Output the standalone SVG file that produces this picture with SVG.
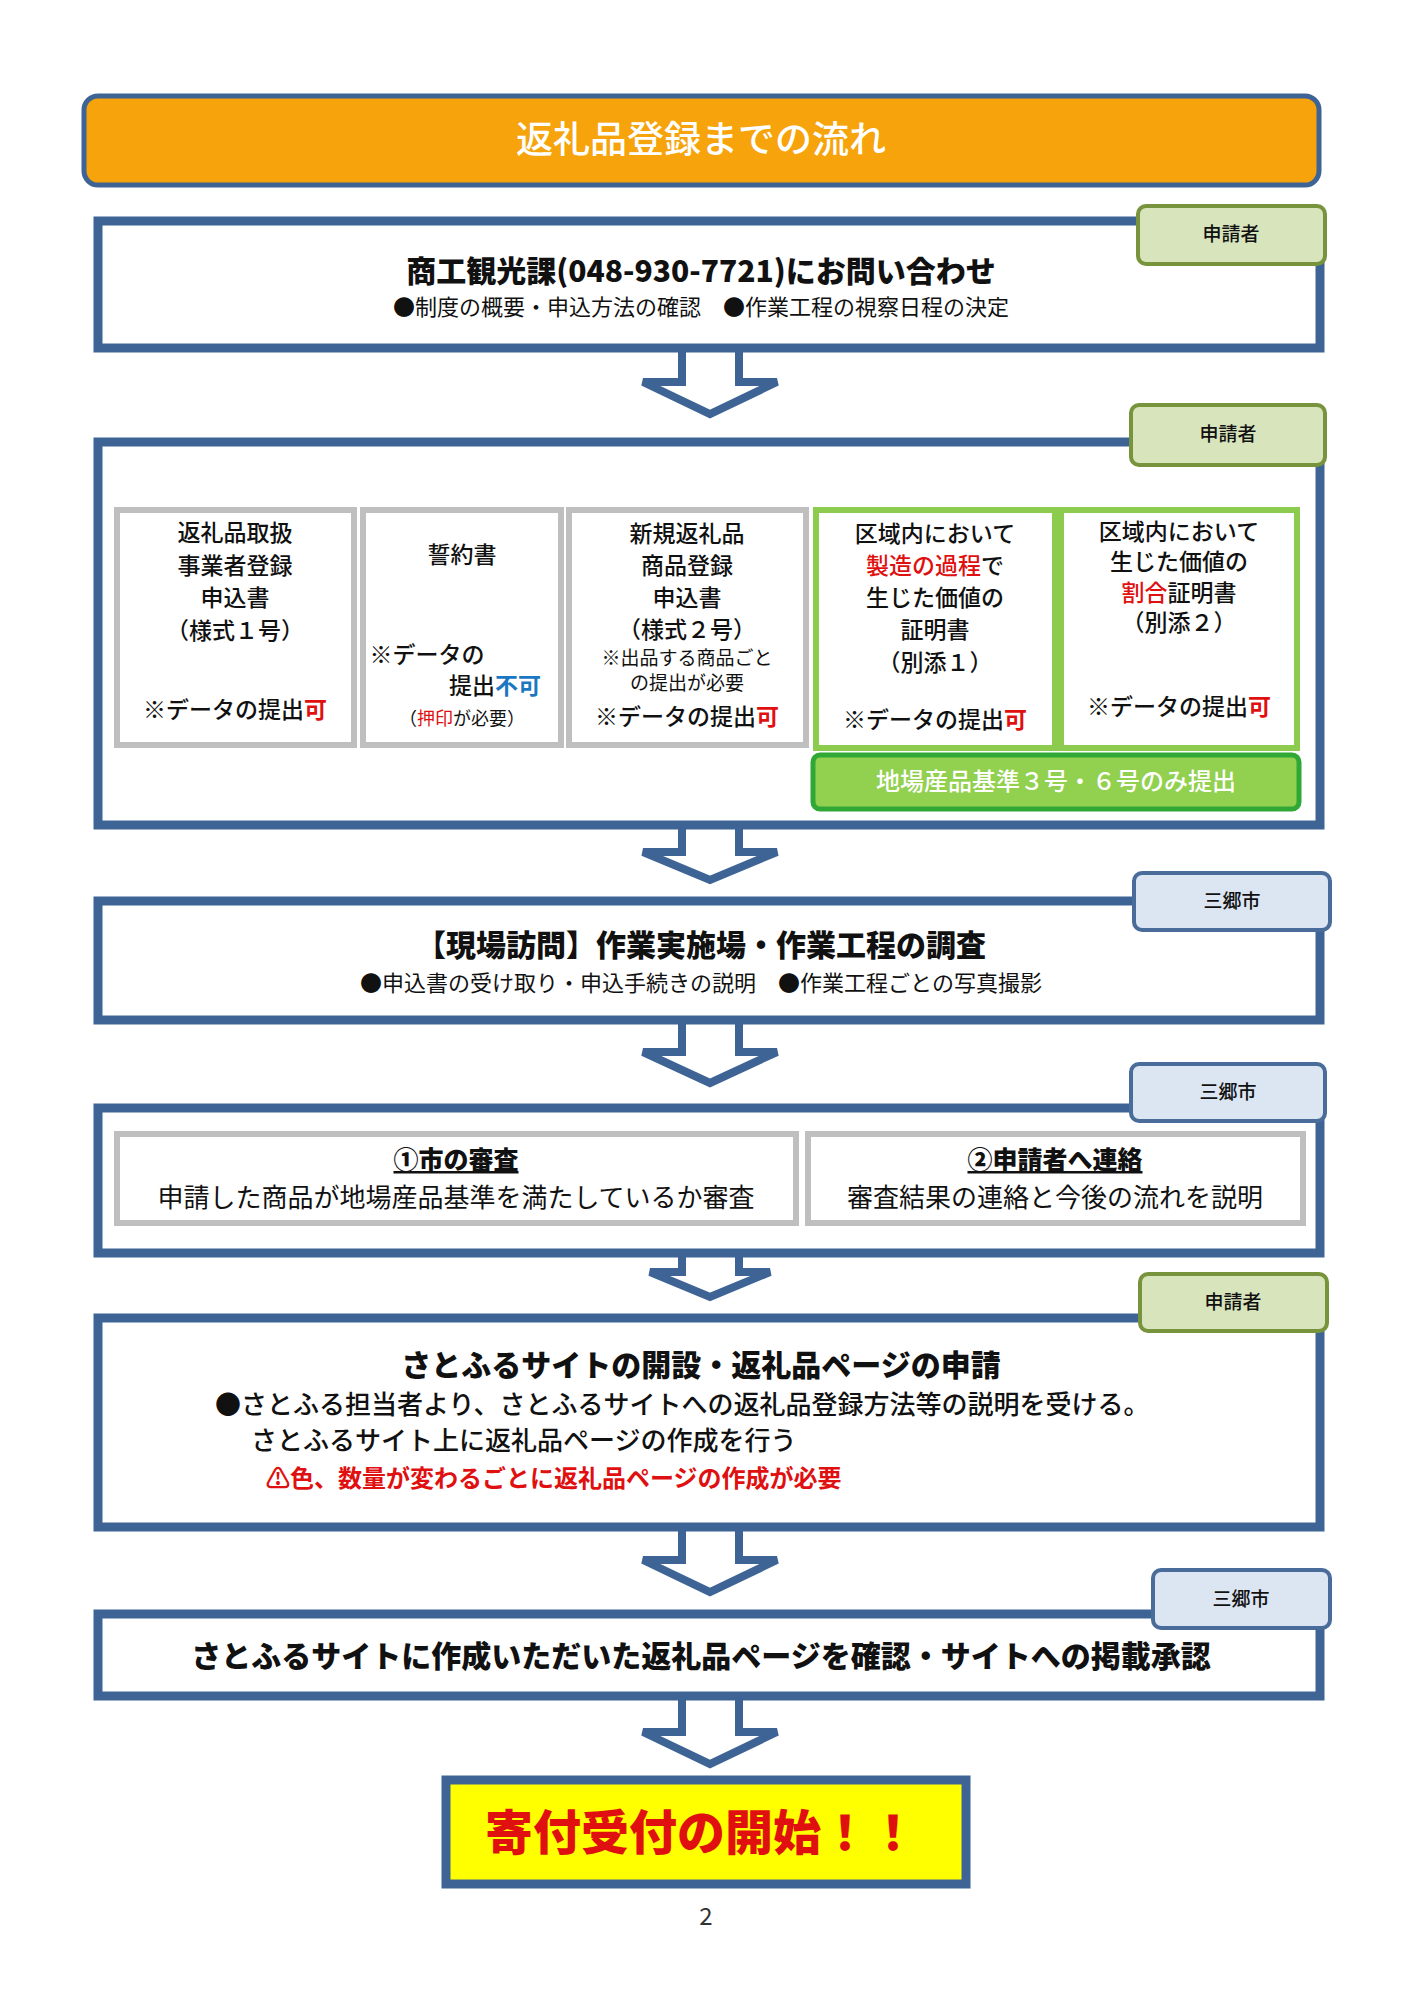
<svg xmlns="http://www.w3.org/2000/svg" width="1414" height="2000" viewBox="0 0 1414 2000">
<style>
text{font-family:"Noto Sans CJK JP","Noto Sans",sans-serif;fill:#111;text-anchor:middle}
.box{fill:#fff;stroke:#3E6496;stroke-width:9}
.arr{fill:#fff;stroke:#3E6496;stroke-width:8;stroke-linejoin:miter}
.lg{fill:#D8E4BC;stroke:#77933C;stroke-width:4}
.lb{fill:#DCE6F2;stroke:#4A6C9A;stroke-width:4}
.lt{font-size:19px;font-weight:500}
.gray{fill:#fff;stroke:#BFBFBF;stroke-width:6}
.grn{fill:#fff;stroke:#8CCB4E;stroke-width:6}
.h{font-size:30px;font-weight:900}
.s{font-size:22px}
.c{font-size:23px;font-weight:500}
.r{fill:#E01010}
.b{fill:#1A78C2}
</style>
<rect x="0" y="0" width="1414" height="2000" fill="#fff"/>
<g id="title"><rect x="84" y="96" width="1235" height="89" rx="14" fill="#F6A30C" stroke="#3E6496" stroke-width="5"/>
<text x="701" y="153" style="font-size:37px;fill:#fff;font-weight:500">返礼品登録までの流れ</text></g>

<g id="connectors">
<path class="arr" d="M682 346 V382 H643 L710 414 L777 382 H739 V346"/>
<path class="arr" d="M682 824 V852 H643 L710 880 L777 852 H739 V824"/>
<path class="arr" d="M682 1018 V1052 H643 L710 1083 L777 1052 H739 V1018"/>
<path class="arr" d="M682 1251 V1272 H650 L710 1297 L770 1272 H739 V1251"/>
<path class="arr" d="M682 1525 V1560 H643 L710 1592 L777 1560 H739 V1525"/>
<path class="arr" d="M682 1694 V1732 H643 L710 1764 L777 1732 H739 V1694"/>
</g>

<g id="n1"><rect class="box" x="98" y="221" width="1222" height="127"/>
<rect class="lg" x="1138" y="206" width="187" height="58" rx="8"/><text class="lt" x="1231" y="241">申請者</text>
<text class="h" x="701" y="282">商工観光課(048-930-7721)にお問い合わせ</text>
<text class="s" x="701" y="315">●制度の概要・申込方法の確認　●作業工程の視察日程の決定</text></g>

<g id="n2"><rect class="box" x="98" y="442" width="1222" height="383"/>
<rect class="lg" x="1131" y="405" width="194" height="60" rx="8"/><text class="lt" x="1228" y="441">申請者</text>
<rect class="gray" x="117" y="510" width="237" height="235"/>
<text class="c" x="235" y="541">返礼品取扱</text><text class="c" x="235" y="574">事業者登録</text><text class="c" x="235" y="606">申込書</text><text class="c" x="235" y="639">（様式１号）</text>
<text class="c" x="235" y="718">※データの提出<tspan class="r" font-weight="bold">可</tspan></text>
<rect class="gray" x="363" y="510" width="198" height="235"/>
<text class="c" x="462" y="563">誓約書</text>
<text class="c" x="427" y="663">※データの</text><text class="c" x="495" y="694">提出<tspan class="b" font-weight="bold">不可</tspan></text>
<text style="font-size:18px" x="462" y="725">（<tspan class="r">押印</tspan>が必要）</text>
<rect class="gray" x="569" y="510" width="237" height="235"/>
<text class="c" x="687" y="542">新規返礼品</text><text class="c" x="687" y="574">商品登録</text><text class="c" x="687" y="606">申込書</text><text class="c" x="687" y="638">（様式２号）</text>
<text style="font-size:19px" x="687" y="665">※出品する商品ごと</text><text style="font-size:19px" x="687" y="690">の提出が必要</text>
<text class="c" x="687" y="725">※データの提出<tspan class="r" font-weight="bold">可</tspan></text>
<rect class="grn" x="816" y="510" width="239" height="238"/>
<text class="c" x="935" y="542">区域内において</text><text class="c" x="935" y="574"><tspan class="r">製造の過程</tspan>で</text><text class="c" x="935" y="606">生じた価値の</text><text class="c" x="935" y="638">証明書</text><text class="c" x="935" y="671">（別添１）</text>
<text class="c" x="935" y="728">※データの提出<tspan class="r" font-weight="bold">可</tspan></text>
<rect class="grn" x="1061" y="510" width="236" height="238"/>
<text class="c" x="1179" y="540">区域内において</text><text class="c" x="1179" y="570">生じた価値の</text><text class="c" x="1179" y="601"><tspan class="r">割合</tspan>証明書</text><text class="c" x="1179" y="631">（別添２）</text>
<text class="c" x="1179" y="715">※データの提出<tspan class="r" font-weight="bold">可</tspan></text>
<rect x="813" y="755" width="486" height="54" rx="7" fill="#92D050" stroke="#2FA836" stroke-width="5"/>
<text x="1056" y="790" style="font-size:24px;fill:#fff;font-weight:500">地場産品基準３号・６号のみ提出</text></g>

<g id="n3"><rect class="box" x="98" y="901" width="1222" height="119"/>
<rect class="lb" x="1134" y="873" width="196" height="57" rx="8"/><text class="lt" x="1232" y="908">三郷市</text>
<text class="h" x="701" y="956">【現場訪問】作業実施場・作業工程の調査</text>
<text class="s" x="701" y="991">●申込書の受け取り・申込手続きの説明　●作業工程ごとの写真撮影</text></g>

<g id="n4"><rect class="box" x="98" y="1108" width="1222" height="145"/>
<rect class="lb" x="1131" y="1064" width="194" height="57" rx="8"/><text class="lt" x="1228" y="1099">三郷市</text>
<rect class="gray" x="117" y="1134" width="679" height="89"/>
<text x="456" y="1169" style="font-size:25px;font-weight:900;text-decoration:underline">①市の審査</text>
<text x="456" y="1207" style="font-size:26px">申請した商品が地場産品基準を満たしているか審査</text>
<rect class="gray" x="808" y="1134" width="495" height="89"/>
<text x="1055" y="1169" style="font-size:25px;font-weight:900;text-decoration:underline">②申請者へ連絡</text>
<text x="1055" y="1207" style="font-size:26px">審査結果の連絡と今後の流れを説明</text></g>

<g id="n5"><rect class="box" x="98" y="1318" width="1222" height="209"/>
<rect class="lg" x="1140" y="1274" width="187" height="57" rx="8"/><text class="lt" x="1233" y="1309">申請者</text>
<text class="h" x="701" y="1376">さとふるサイトの開設・返礼品ページの申請</text>
<text style="font-size:26px;text-anchor:start;font-weight:500" x="215" y="1414">●さとふる担当者より、さとふるサイトへの返礼品登録方法等の説明を受ける。</text>
<text style="font-size:26px;text-anchor:start;font-weight:500" x="251" y="1450">さとふるサイト上に返礼品ページの作成を行う</text>
<text class="r" style="font-size:24px;font-weight:bold;text-anchor:start" x="266" y="1487">⚠色、数量が変わるごとに返礼品ページの作成が必要</text></g>

<g id="n6"><rect class="box" x="98" y="1614" width="1222" height="82"/>
<rect class="lb" x="1153" y="1570" width="177" height="58" rx="8"/><text class="lt" x="1241" y="1606">三郷市</text>
<text class="h" x="701" y="1667">さとふるサイトに作成いただいた返礼品ページを確認・サイトへの掲載承認</text></g>

<g id="n7"><rect x="446" y="1780" width="520" height="104" fill="#FFFF00" stroke="#3E6496" stroke-width="9"/>
<text x="701" y="1850" style="font-size:48px;font-weight:900;fill:#E01010">寄付受付の開始！！</text></g>
<text x="706" y="1925" style="font-size:24px;fill:#333">2</text>
</svg>
